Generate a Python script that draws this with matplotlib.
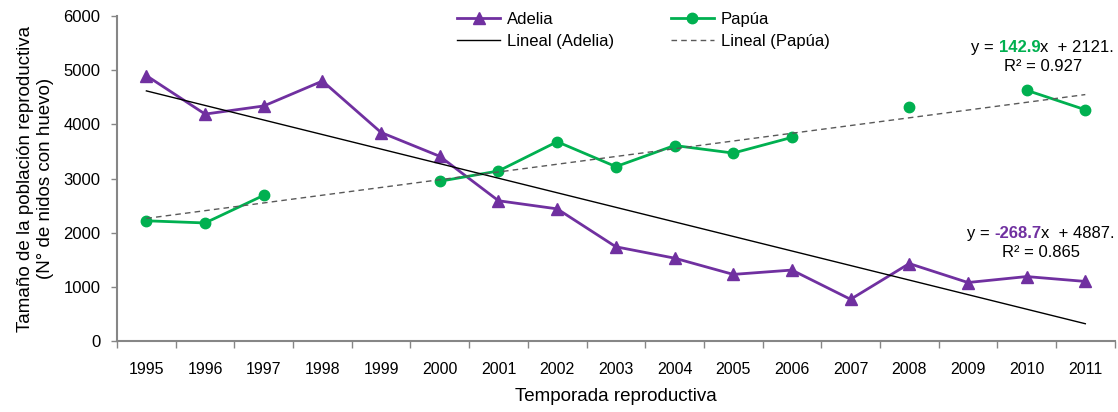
import numpy as np
import matplotlib
matplotlib.use("Agg")
import matplotlib.pyplot as plt
from matplotlib.offsetbox import TextArea, HPacker, VPacker, AnnotationBbox

plt.rcParams['font.family'] = ['Liberation Sans', 'DejaVu Sans']

years = [str(y) for y in range(1995, 2012)]
adelia = [4900, 4190, 4340, 4800, 3850, 3410, 2590, 2440, 1740, 1530, 1230, 1310, 770, 1430, 1080, 1190, 1100]
papua = [2220, 2180, 2690, np.nan, np.nan, 2950, 3140, 3680, 3220, 3610, 3470, 3760, np.nan, 4330, np.nan, 4630, 4270]
# Excel trend lines (x = 1..17)
trend_adelia = (-268.7, 4887)
trend_papua = (142.9, 2121)
r2_adelia = 0.865
r2_papua = 0.927

purple = '#7030A0'
green = '#00B050'
axis_gray = '#868686'

x = np.arange(1, len(years) + 1)

fig = plt.figure(figsize=(11.18, 4.12), dpi=100)
ax = fig.add_axes([0.1047, 0.1723, 0.8923, 0.7887])

ax.plot(x, adelia, color=purple, lw=2.0, marker='^', ms=8.5, label='Adelia')
ax.plot(x, papua, color=green, lw=2.0, marker='o', ms=7.5, label='Papúa')
ax.plot(x, trend_adelia[0] * x + trend_adelia[1], color='black', lw=1.0, label='Lineal (Adelia)')
ax.plot(x, trend_papua[0] * x + trend_papua[1], color='#595959', lw=1.0,
        ls=(0, (4, 3)), label='Lineal (Papúa)')

ax.set_xlim(0.5, len(years) + 0.5)
ax.set_ylim(0, 6000)
ax.set_yticks(range(0, 6001, 1000))

# category labels centered, tick marks between categories
ax.set_xticks(x)
ax.set_xticklabels(years)
ax.set_xticks(np.arange(0.5, len(years) + 1), minor=True)
ax.tick_params(axis='x', which='major', length=0, pad=15, labelsize=11.5)
ax.tick_params(axis='x', which='minor', length=5, color=axis_gray, width=1)
ax.tick_params(axis='y', length=4, color=axis_gray, width=1, pad=8, labelsize=12)

for s in ['top', 'right']:
    ax.spines[s].set_visible(False)
for s in ['left', 'bottom']:
    ax.spines[s].set_color(axis_gray)
    ax.spines[s].set_linewidth(1.5)

ax.set_xlabel('Temporada reproductiva', fontsize=13.5, labelpad=8)
ax.set_ylabel('Tamaño de la población reproductiva\n(N° de nidos con huevo)', fontsize=13.5, labelpad=7)

h, l = ax.get_legend_handles_labels()
order = [0, 2, 1, 3]
ax.legend([h[i] for i in order], [l[i] for i in order], ncol=2, frameon=False,
          loc='upper left', bbox_to_anchor=(0.3407, 1.012), fontsize=12,
          borderpad=0, borderaxespad=0,
          handlelength=2.6, columnspacing=3.4, labelspacing=0.4, handletextpad=0.4)


def equation(slope, intercept, r2, color, xy):
    sign = '-' if slope < 0 else ''
    line1 = HPacker(children=[
        TextArea('y = ', textprops=dict(fontsize=12, color='black')),
        TextArea(f'{sign}{abs(slope):.1f}', textprops=dict(fontsize=12, color=color, fontweight='bold')),
        TextArea(f'x  + {intercept}.', textprops=dict(fontsize=12, color='black')),
    ], sep=0, pad=0, align='baseline')
    line2 = TextArea(f'R² = {r2}', textprops=dict(fontsize=12, color='black'))
    box = VPacker(children=[line1, line2], sep=3, pad=0, align='center')
    ab = AnnotationBbox(box, xy, xycoords='axes fraction', frameon=False, box_alignment=(0.5, 0.5))
    ax.add_artist(ab)


equation(trend_papua[0], trend_papua[1], r2_papua, green, (0.928, 0.875))
equation(trend_adelia[0], trend_adelia[1], r2_adelia, purple, (0.926, 0.302))

fig.savefig('out.png', dpi=100)
